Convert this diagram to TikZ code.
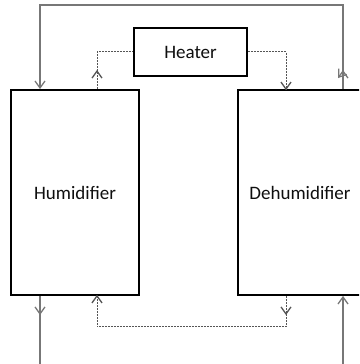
\documentclass[tikz,border=0pt]{standalone}
\usepackage{fontspec}
\setmainfont{Carlito}
\usetikzlibrary{arrows.meta,decorations.markings}
\definecolor{solidgray}{HTML}{777777}
\definecolor{dashgray}{HTML}{555555}
\definecolor{textcol}{HTML}{0F0F0F}
\newcommand{\veetip}[1]{\draw[solid,line width=1.3pt,line join=miter,#1] (-7pt,-5pt) -- (0pt,0pt) -- (-7pt,5pt);}
\begin{document}
\begin{tikzpicture}[x=1pt,y=1pt,
  box/.style={draw=black,line width=1.8pt,fill=white,text=textcol,
    font=\fontsize{19}{22}\selectfont,inner sep=0pt},
  tip/.style={-{Straight Barb[length=7pt,width=10pt,line width=1.3pt]}},
  conn/.style={draw=solidgray,line width=1.3pt},
  dconn/.style={draw=dashgray,line width=1pt,dash pattern=on 2pt off 1pt},
  markat/.style={postaction={decorate},decoration={markings,
    mark=at position #1 with {\veetip{solidgray}}}},
  dmark/.style={postaction={decorate},decoration={markings,
    mark=at position #1 with {\veetip{dashgray}}}},
  dmarktwo/.style 2 args={postaction={decorate},decoration={markings,
    mark=at position #1 with {\veetip{dashgray}},
    mark=at position #2 with {\veetip{dashgray}}}}]
\useasboundingbox (0,0) rectangle (359,364);
\clip (0,0) rectangle (359,364);
% nodes
\node[box,minimum width=128pt,minimum height=205pt] (hum) at (75,171.5) {Humidifier};
\node[box,minimum width=124pt,minimum height=205pt] (deh) at (300,171.5) {Dehumidifier};
\node[box,minimum width=113pt,minimum height=48pt] (heat) at (190.5,312) {Heater};
% helper coordinates
\coordinate (xL) at (40,0);
\coordinate (xLd) at (97,0);
\coordinate (xRd) at (286,0);
\coordinate (xR) at (343,0);
\coordinate (top) at (0,359);
\coordinate (bot) at (0,37);
\coordinate (outL) at (40,0);
\coordinate (inR) at (343,0);
% top solid loop: dehumidifier -> humidifier
\draw[conn,tip,markat=18pt] (xR |- deh.north) -- (xR |- top) -- (xL |- top) -- (xL |- hum.north);
% dashed: humidifier -> heater -> dehumidifier
\draw[dconn,dmark=18pt] (xLd |- hum.north) |- (heat.west);
\draw[dconn,dmark=1] (heat.east) -| (xRd |- deh.north);
% bottom solid
\draw[conn,markat=18pt] (xL |- hum.south) -- (outL);
\draw[conn,tip] (inR) -- (xR |- deh.south);
% bottom dashed loop: dehumidifier -> humidifier
\draw[dconn,dmarktwo={18pt}{1}] (xRd |- deh.south) -- (xRd |- bot) -- (xLd |- bot) -- (xLd |- hum.south);
\end{tikzpicture}
\end{document}
